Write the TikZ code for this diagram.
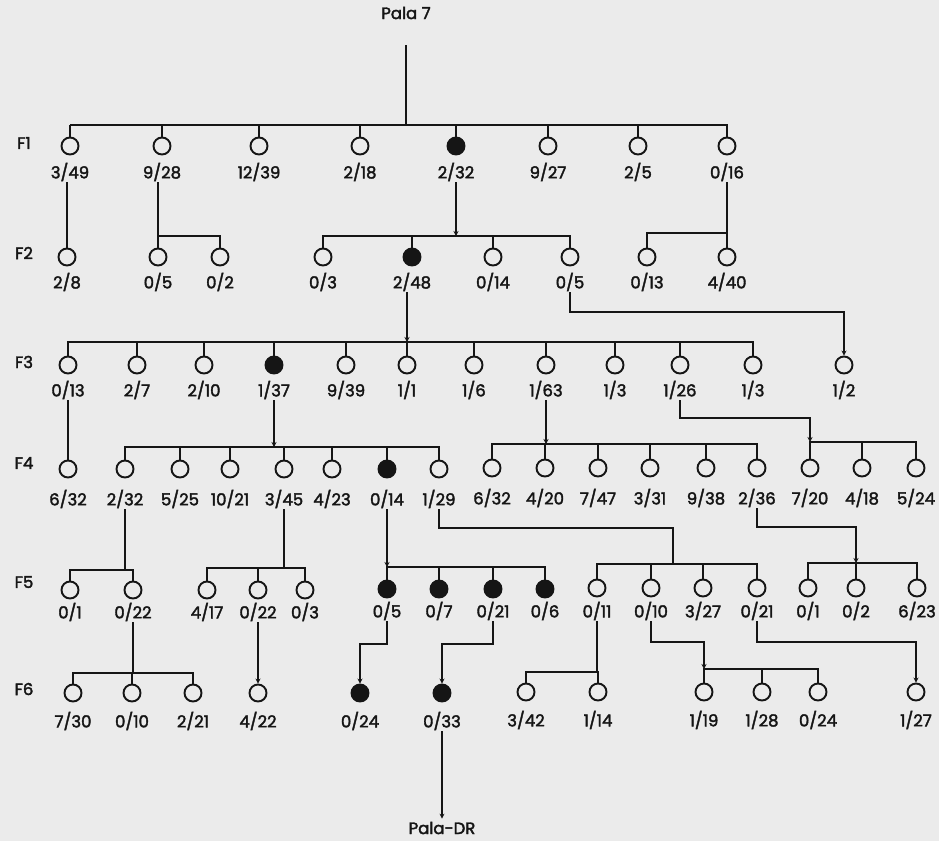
\documentclass[tikz,border=0pt]{standalone}
\usepackage{fontspec}
\setmainfont{Poppins}[FakeBold=2.2]
\usetikzlibrary{arrows.meta}
\definecolor{bg}{HTML}{EBEBEB}
\definecolor{ink}{HTML}{151515}
\newcommand\pind[6]{\node[#6] (#1) at (#2,#3) {}; \node[lab] (#1l) at (#2,#4) {#5};}
\begin{document}
\begin{tikzpicture}[x=1pt,y=-1pt,
  ind/.style={circle,draw=ink,line width=1.9pt,minimum size=17pt,inner sep=0pt,fill=bg},
  aff/.style={ind,fill=ink},
  lab/.style={font=\fontsize{16.5}{16.5}\selectfont,text=ink,inner sep=1pt},
  gen/.style={font=\fontsize{16.5}{16.5}\selectfont,text=ink},
  ln/.style={draw=ink,line width=1.9pt},
  arr/.style={ln,-{Stealth[length=5pt,width=5pt]}}]
\fill[bg] (0,0) rectangle (939,841);
\useasboundingbox (0,0) rectangle (939,841);
% generation labels
\node[gen] (gF1) at (24,143) {F1};
\node[gen] (gF2) at (24,253) {F2};
\node[gen] (gF3) at (24,362) {F3};
\node[gen] (gF4) at (24,463) {F4};
\node[gen] (gF5) at (24,582) {F5};
\node[gen] (gF6) at (24,689) {F6};
% top
\node[lab] (pala) at (406,13) {Pala 7};
\coordinate (p7) at (406,45);
% F1
\pind{a1}{70}{146}{172}{3/49}{ind}
\pind{a2}{162}{146}{172}{9/28}{ind}
\pind{a3}{259}{146}{172}{12/39}{ind}
\pind{a4}{360}{146}{172}{2/18}{ind}
\pind{a5}{456}{146}{172}{2/32}{aff}
\pind{a6}{548}{146}{172}{9/27}{ind}
\pind{a7}{638}{146}{172}{2/5}{ind}
\pind{a8}{727}{146}{172}{0/16}{ind}
% F2
\pind{b1}{67}{257}{282}{2/8}{ind}
\pind{b2}{158}{257}{282}{0/5}{ind}
\pind{b3}{220}{257}{282}{0/2}{ind}
\pind{b4}{323}{257}{282}{0/3}{ind}
\pind{b5}{412}{257}{282}{2/48}{aff}
\pind{b6}{493}{257}{282}{0/14}{ind}
\pind{b7}{570}{257}{282}{0/5}{ind}
\pind{b8}{647}{257}{282}{0/13}{ind}
\pind{b9}{727}{257}{282}{4/40}{ind}
% F3
\pind{c1}{68}{365}{390}{0/13}{ind}
\pind{c2}{137}{365}{390}{2/7}{ind}
\pind{c3}{204}{365}{390}{2/10}{ind}
\pind{c4}{274}{365}{390}{1/37}{aff}
\pind{c5}{346}{365}{390}{9/39}{ind}
\pind{c6}{407}{365}{390}{1/1}{ind}
\pind{c7}{474}{365}{390}{1/6}{ind}
\pind{c8}{546}{365}{390}{1/63}{ind}
\pind{c9}{615}{365}{390}{1/3}{ind}
\pind{c10}{680}{365}{390}{1/26}{ind}
\pind{c11}{753}{365}{390}{1/3}{ind}
\pind{c12}{844}{365}{390}{1/2}{ind}
% F4
\pind{d1}{68}{469}{499}{6/32}{ind}
\pind{d2}{125}{469}{499}{2/32}{ind}
\pind{d3}{180}{469}{499}{5/25}{ind}
\pind{d4}{230}{469}{499}{10/21}{ind}
\pind{d5}{284}{469}{499}{3/45}{ind}
\pind{d6}{332}{469}{499}{4/23}{ind}
\pind{d7}{387}{469}{499}{0/14}{aff}
\pind{d8}{439}{469}{499}{1/29}{ind}
\pind{d9}{492}{468}{498}{6/32}{ind}
\pind{d10}{545}{468}{498}{4/20}{ind}
\pind{d11}{598}{468}{498}{7/47}{ind}
\pind{d12}{650}{468}{498}{3/31}{ind}
\pind{d13}{706}{468}{498}{9/38}{ind}
\pind{d14}{757}{468}{498}{2/36}{ind}
\pind{d15}{810}{468}{498}{7/20}{ind}
\pind{d16}{862}{468}{498}{4/18}{ind}
\pind{d17}{916}{468}{498}{5/24}{ind}
% F5
\pind{e1}{70}{590}{612}{0/1}{ind}
\pind{e2}{133}{590}{612}{0/22}{ind}
\pind{e3}{207}{590}{612}{4/17}{ind}
\pind{e4}{258}{590}{612}{0/22}{ind}
\pind{e5}{305}{590}{612}{0/3}{ind}
\pind{e6}{387}{589}{611}{0/5}{aff}
\pind{e7}{439}{589}{611}{0/7}{aff}
\pind{e8}{493}{589}{611}{0/21}{aff}
\pind{e9}{545}{589}{611}{0/6}{aff}
\pind{e10}{597}{588}{611}{0/11}{ind}
\pind{e11}{651}{588}{611}{0/10}{ind}
\pind{e12}{703}{588}{611}{3/27}{ind}
\pind{e13}{757}{588}{611}{0/21}{ind}
\pind{e14}{808}{588}{611}{0/1}{ind}
\pind{e15}{856}{588}{611}{0/2}{ind}
\pind{e16}{917}{588}{611}{6/23}{ind}
% F6
\pind{f1}{73}{693}{721}{7/30}{ind}
\pind{f2}{132}{693}{721}{0/10}{ind}
\pind{f3}{193}{693}{721}{2/21}{ind}
\pind{f4}{258}{693}{721}{4/22}{ind}
\pind{f5}{360}{693}{721}{0/24}{aff}
\pind{f6}{442}{693}{721}{0/33}{aff}
\pind{f7}{526}{692}{720}{3/42}{ind}
\pind{f8}{598}{692}{720}{1/14}{ind}
\pind{f9}{704}{692}{720}{1/19}{ind}
\pind{f10}{762}{692}{720}{1/28}{ind}
\pind{f11}{818}{692}{720}{0/24}{ind}
\pind{f12}{916}{692}{720}{1/27}{ind}
\node[lab,inner sep=0pt] (dr) at (442,828) {Pala-DR};
% ---- connectors ----
% F1 sibship
\draw[ln] (p7) -- (p7 |- 0,125);
\draw[ln] (a1.north |- 0,125) -- (a8.north |- 0,125) -- (a8.north);
\foreach \n in {a1,a2,a3,a4,a5,a6,a7} \draw[ln] (\n.north) -- (\n.north |- 0,125);
% F2
\draw[ln] (a1l.south -| b1.north) -- (b1.north);
\draw[ln] (a2l.south -| b2.north) -- (b2.north);
\draw[ln] (b2.north |- 0,236) -- (b3.north |- 0,236) -- (b3.north);
\draw[arr] (a5l.south) -- (a5l.south |- 0,236);
\draw[ln] (b4.north) -- (b4.north |- 0,236) -- (b7.north |- 0,236) -- (b7.north);
\foreach \n in {b5,b6} \draw[ln] (\n.north) -- (\n.north |- 0,236);
\draw[ln] (a8l.south -| b9.north) -- (b9.north);
\draw[ln] (b8.north) -- (b8.north |- 0,233) -- (b9.north |- 0,233);
% F3
\draw[arr] (b5l.south -| c6.north) -- (c6.north |- 0,342);
\draw[ln] (c1.north) -- (c1.north |- 0,342) -- (c11.north |- 0,342) -- (c11.north);
\foreach \n in {c2,c3,c4,c5,c6,c7,c8,c9,c10} \draw[ln] (\n.north) -- (\n.north |- 0,342);
\draw[arr] (b7l.south) -- (b7l.south |- 0,312) -| (c12.north);
% F4
\draw[ln] (c1l.south -| d1.north) -- (d1.north);
\draw[arr] (c4l.south) -- (c4l.south |- 0,447);
\draw[ln] (d2.north) -- (d2.north |- 0,447) -- (d8.north |- 0,447) -- (d8.north);
\foreach \n in {d3,d4,d5,d6,d7} \draw[ln] (\n.north) -- (\n.north |- 0,447);
\draw[arr] (c8l.south) -- (c8l.south |- 0,444);
\draw[ln] (d9.north) -- (d9.north |- 0,444) -- (d14.north |- 0,444) -- (d14.north);
\foreach \n in {d10,d11,d12,d13} \draw[ln] (\n.north) -- (\n.north |- 0,444);
\draw[arr] (c10l.south) -- (c10l.south |- 0,418) -| (d15.north |- 0,442);
\draw[ln] (d15.north) -- (d15.north |- 0,442) -- (d17.north |- 0,442) -- (d17.north);
\draw[ln] (d16.north) -- (d16.north |- 0,442);
% F5
\draw[ln] (d2l.south) -- (d2l.south |- 0,570);
\draw[ln] (e1.north) -- (e1.north |- 0,570) -- (e2.north |- 0,570) -- (e2.north);
\draw[ln] (d5l.south) -- (d5l.south |- 0,568);
\draw[ln] (e3.north) -- (e3.north |- 0,568) -- (e5.north |- 0,568) -- (e5.north);
\draw[ln] (e4.north) -- (e4.north |- 0,568);
\draw[arr] (d7l.south) -- (d7l.south |- 0,567);
\draw[ln] (e6.north) -- (e6.north |- 0,567) -- (e9.north |- 0,567) -- (e9.north);
\foreach \n in {e7,e8} \draw[ln] (\n.north) -- (\n.north |- 0,567);
\coordinate (j1) at (673,564);
\draw[ln] (d8l.south) -- (d8l.south |- 0,528) -| (j1);
\draw[ln] (e10.north) -- (e10.north |- 0,564) -- (e13.north |- 0,564) -- (e13.north);
\foreach \n in {e11,e12} \draw[ln] (\n.north) -- (\n.north |- 0,564);
\draw[arr] (d14l.south) -- (d14l.south |- 0,527) -| (e15.north |- 0,563);
\draw[ln] (e14.north) -- (e14.north |- 0,563) -- (e16.north |- 0,563) -- (e16.north);
\draw[ln] (e15.north) -- (e15.north |- 0,563);
% F6
\draw[ln] (e2l.south) -- (e2l.south |- 0,673);
\draw[ln] (f1.north) -- (f1.north |- 0,673) -- (f3.north |- 0,673) -- (f3.north);
\draw[ln] (f2.north) -- (f2.north |- 0,673);
\draw[arr] (e4l.south) -- (f4.north);
\draw[arr] (e6l.south) -- (e6l.south |- 0,644) -| (f5.north);
\draw[arr] (e8l.south) -- (e8l.south |- 0,644) -| (f6.north);
\draw[arr] (f6l.south) -- ([yshift=3pt]dr.north);
\draw[ln] (e10l.south) -- (e10l.south |- 0,672);
\draw[ln] (f7.north) -- (f7.north |- 0,672) -- (f8.north |- 0,672) -- (f8.north);
\draw[arr] (e11l.south) -- (e11l.south |- 0,642) -| (f9.north |- 0,669);
\draw[ln] (f9.north) -- (f9.north |- 0,669) -- (f11.north |- 0,669) -- (f11.north);
\draw[ln] (f10.north) -- (f10.north |- 0,669);
\draw[arr] (e13l.south) -- (e13l.south |- 0,642) -| (f12.north);
\end{tikzpicture}
\end{document}
